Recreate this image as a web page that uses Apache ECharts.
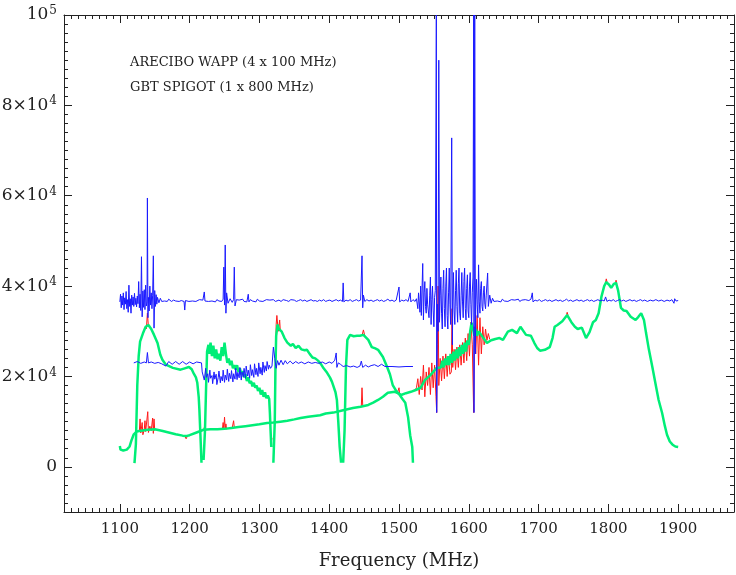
<!DOCTYPE html>
<html>
<head>
<meta charset="utf-8">
<script src="https://cdn.jsdelivr.net/npm/echarts@6/dist/echarts.min.js"></script>
<style>
  html, body { margin: 0; padding: 0; background: #fff; }
  #chart { width: 736px; height: 575px; }
</style>
</head>
<body>
<div id="chart"></div>
<script>
// tick positions
const xTicks = [1100, 1200, 1300, 1400, 1500, 1600, 1700, 1800, 1900]
const yTicks = [0, 20000, 40000, 60000, 80000, 100000]

// GBT spigot, upper blue trace
const gbtBlue = [
  [1100,36500],[1101,38200],[1102,35200],[1103,37800],[1104,35800],[1105,38500],[1106,34800],[1107,37400],[1108,36000],[1109,38800],
  [1110,35000],[1111,37000],[1112,34200],[1113,40200],[1114,35500],[1115,37200],[1116,34000],[1117,38000],[1118,35800],[1119,37600],
  [1120,35500],[1121,38400],[1122,35900],[1123,37300],[1124,35400],[1125,37800],[1126,36100],[1127,41000],[1128,35200],[1129,38200],
  [1130,34600],[1131,46500],[1132,33200],[1133,38900],[1134,35300],[1135,39200],[1136,34800],[1137,40200],[1138,35600],[1139,36500],
  [1139.5,59500],[1140.3,33000],[1141,37500],[1142,34500],[1143,40000],[1144,35800],[1145,38500],[1146,35000],[1147,38000],[1148,46700],
  [1149,30700],[1150,39000],[1151,35500],[1152,38100],[1153,36000],[1154,37500],[1156,36300],[1158,37300],[1160,36600],[1162,37000],
  [1164,36700],[1166,36900],[1168,36600],[1170,37100],[1172,36800],[1174,36600],[1177,36900],[1180,36700],[1182,37000],[1185,36600],
  [1188,36800],[1190,37000],[1192,36600],[1193,34700],[1194,36800],[1196,36900],[1199,36600],[1201,37000],[1204,36700],[1206,36900],
  [1209,36600],[1211,36800],[1214,37000],[1216,36700],[1219,36900],[1220,36600],[1221,38700],[1222,36700],[1224,36900],[1227,36600],
  [1229,37000],[1232,36700],[1234,36800],[1237,36500],[1239,37000],[1242,36700],[1244,36900],[1246,36600],[1248,37100],[1249,44200],
  [1250,35800],[1251,49100],[1252,34000],[1253,38500],[1255,36200],[1258,37200],[1261,36400],[1263,37000],[1264,44200],[1265,35600],
  [1267,37000],[1269,36600],[1271,36900],[1273,36700],[1276,37100],[1278,36600],[1280,36800],[1282,36500],[1284,38200],[1285,36500],
  [1287,37000],[1290,36700],[1292,36900],[1295,36500],[1297,37100],[1300,36700],[1302,36900],[1305,36600],[1307,36800],[1310,37000],
  [1312,36600],[1315,36900],[1317,36700],[1320,37000],[1323,36600],[1325,36800],[1328,36900],[1331,36600],[1334,37000],[1336,36700],
  [1339,36800],[1342,36600],[1345,37000],[1347,36700],[1350,36900],[1353,36600],[1356,36800],[1359,37000],[1362,36700],[1365,36900],
  [1368,36600],[1371,36800],[1374,37000],[1377,36700],[1380,36800],[1383,36600],[1386,36900],[1389,36700],[1392,37000],[1395,36600],
  [1398,36800],[1401,36900],[1404,36600],[1407,36800],[1410,37000],[1413,36700],[1416,36900],[1419,36600],[1420,40700],[1421,36500],
  [1424,36900],[1427,36700],[1430,37000],[1433,36600],[1436,36800],[1439,37000],[1442,36700],[1445,36900],[1446,37200],[1447,46700],
  [1448,35200],[1449,38000],[1451,36600],[1454,37000],[1457,36700],[1460,36900],[1463,36600],[1466,36800],[1469,37000],[1472,36700],
  [1475,36900],[1478,36600],[1481,36800],[1484,37100],[1487,36700],[1490,36900],[1493,36600],[1496,36900],[1498,36700],[1500,39800],
  [1501,36500],[1504,36900],[1507,36700],[1510,37000],[1513,36600],[1515,36900],[1516,38500],[1517,36500],[1520,37000],[1523,36600],
  [1525,37200],
  [1526,37000],[1527,35000],[1528,38500],[1530,34200],[1531,40000],[1532,33500],[1534,45000],[1535,32500],[1536,38500],[1537,41000],
  [1538,35500],[1539,34000],[1540,39500],[1541,36000],[1543,33000],[1544,38000],[1545,42000],[1546,31500],[1547,37000],[1548,40000],
  [1549,34500],[1550,31000],[1551,37500],[1552,39000],[1553.5,100000],[1554,12000],[1555,36000],[1556,30000],[1557,90000],[1558,32000],
  [1559,38000],[1560,42000],[1561,34000],[1562,30500],[1563,39500],[1564,43500],[1565,35000],[1566,31000],[1567,40000],[1568,44000],
  [1569,33500],[1570,30500],[1571,38500],[1572,44000],[1573,36000],[1574,31500],[1575.5,72800],[1576.5,27000],[1577,36500],[1578,43000],
  [1579,34500],[1580,31500],[1581,39000],[1582,43500],[1583,35500],[1584,32000],[1585,40500],[1586,44000],[1587,34000],[1588,32500],
  [1589,38000],[1590,43000],[1591,36500],[1592,33000],[1593,41000],[1594,44000],[1595,35000],[1596,32500],[1597,39500],[1598,42500],
  [1599,34500],[1600,33000],[1601,40000],[1602,43000],[1603,36000],[1604,31500],[1605,38500],[1606,42000],[1607,100000],[1607.5,12000],
  [1608.5,100000],[1609.5,25000],[1610,37000],[1611,41500],[1612,36000],[1613,33000],[1614,44700],[1615,36500],[1616,34000],[1617,39500],
  [1618,41000],[1619,35500],[1620,34500],[1621,38500],[1622,40000],[1623,36000],[1624,35000],[1625,38000],[1627,42900],[1628,35500],
  [1630,38000],[1632,36200],[1634,37300],[1636,36600],[1638,37000],[1641,36700],[1643,36900],[1646,36500],[1648,37100],[1651,36700],
  [1653,36900],[1656,36600],[1658,36800],[1661,37000],[1663,36600],[1666,36900],[1668,36700],[1671,37100],[1673,36600],[1676,36900],
  [1678,36700],[1681,37000],[1683,36600],[1686,36800],[1689,37100],[1691,38500],[1692,36500],[1695,36900],[1698,36700],[1701,37000],
  [1704,36600],[1707,36800],[1710,37000],[1713,36700],[1716,36900],[1719,36600],[1722,36800],[1725,37000],[1728,36700],[1731,36900],
  [1734,36600],[1737,36800],[1740,37100],[1743,36700],[1746,36900],[1749,36600],[1752,36800],[1755,37000],[1758,36700],[1761,36900],
  [1764,36600],[1767,36800],[1770,37000],[1773,36700],[1776,36900],[1779,36600],[1782,36800],[1785,37000],[1788,36700],[1791,36900],
  [1794,36700],[1796,37600],[1798,36600],[1801,36900],[1804,36700],[1807,37000],[1810,36600],[1813,36800],[1816,37000],[1819,36700],
  [1822,36900],[1825,36600],[1828,36800],[1831,37000],[1834,36700],[1837,36900],[1840,36600],[1843,36800],[1846,37000],[1849,36700],
  [1852,36900],[1856,36600],[1860,36900],[1864,36700],[1868,37000],[1872,36700],[1876,36900],[1880,36600],[1884,36900],[1888,36700],
  [1891,37000],[1894,36200],[1895,37200],[1897,36700],[1900,36800]
]

// Arecibo WAPP, lower blue trace
const wappBlue = [
  [1120,23000],[1125,23300],[1130,22900],[1135,23200],[1138,23000],[1139.5,25300],[1141,23000],[1145,23200],[1150,22900],[1155,23100],
  [1160,22800],[1166,22300],[1170,23300],[1175,22700],[1180,23300],[1185,22700],[1190,23300],[1195,22700],[1200,23200],[1205,22800],
  [1210,23200],[1217,23000],[1218,21000],
  [1220,21000],[1221,19200],[1223,21800],[1224,19800],[1226,20600],[1227,18700],[1229,21400],[1230,19600],[1232,20200],[1233,18400],
  [1235,21000],[1236,19400],[1238,20500],[1239,18200],[1241,19800],[1242,21200],[1244,18600],[1245,20000],[1247,19000],[1248,21400],
  [1250,18700],[1251,20300],[1253,19200],[1254,21600],[1256,18900],[1257,20700],[1259,19500],[1260,21300],[1262,18800],[1263,20600],
  [1265,19400],[1266,21800],[1268,19300],[1269,20900],[1271,19700],[1272,22000],[1274,19200],[1275,21000],[1277,19900],[1278,21800],
  [1280,19600],[1281,22300],[1283,20100],[1284,21400],[1286,19600],[1287,22600],[1289,20200],[1290,21500],[1292,19800],[1293,22800],
  [1295,20400],[1296,21800],[1298,20000],[1299,23000],[1301,20600],[1302,22000],[1304,20300],[1305,23200],[1307,20900],[1308,22400],
  [1310,21200],[1311,23300],[1313,21600],[1314,22500],[1316,21800],[1318,22300],
  [1319,22500],[1320,26500],[1322,24000],[1324,21800],[1326,23500],[1328,22500],[1331,23600],[1334,22600],[1337,23500],[1340,22800],
  [1344,23400],[1348,22800],[1352,23300],[1356,22900],[1360,23200],[1365,22800],[1370,23200],[1375,22900],[1380,23100],[1385,22900],
  [1390,23200],[1395,22800],[1400,23200],[1404,22900],[1408,23600],[1410,25200],[1411,22000],[1413,23000],[1416,22700],[1418,23000],
  [1420,22200],[1425,22400],[1430,22100],[1435,22300],[1440,22000],[1444,22300],[1446,23400],[1448,22000],[1452,22500],[1456,22100],
  [1460,22400],[1465,22600],[1470,22200],[1475,22700],[1480,22200],[1490,22200],[1500,22100],[1510,22200],[1520,22200]
]

// Arecibo WAPP bandpasses, four 100 MHz bands (green)
const wappGreen = [
  [1121,800],[1123,5000],[1125,18000],[1127,24500],[1129,27700],[1133,29500],[1137,31000],[1141,31400],[1145,30500],[1149,29200],
  [1154,27400],[1158,24800],[1161,23700],[1166,22600],[1176,21900],[1187,21500],[1193,21800],[1199,22100],[1203,21600],[1206,20600],
  [1209,19800],[1211,18600],[1213,15500],[1214,12600],[1216,5000],[1217,900],[1218,'-'],
  [1220,1500],[1222,8000],[1224,20000],[1225,25500],[1227,27000],[1228,25000],[1230,27500],[1232,24500],[1234,26800],[1236,24000],
  [1238,26000],[1240,23800],[1242,25000],[1244,23500],[1246,26500],[1248,24500],[1250,27500],[1252,25000],[1254,23000],[1256,24000],
  [1258,22500],[1260,23500],[1262,21800],[1264,22500],[1266,21500],[1268,22500],[1270,21000],[1272,21800],[1274,20500],[1276,21200],
  [1278,19800],[1280,20500],[1282,19000],[1284,19800],[1286,18500],[1288,19000],[1290,17800],[1292,18600],[1294,17500],[1296,18000],
  [1298,16800],[1300,17500],[1302,16000],[1304,17000],[1306,15500],[1308,16500],[1310,15200],[1312,15800],[1314,15000],[1315,12000],
  [1316,8000],[1317,4400],[1318,'-'],
  [1320,900],[1322,10000],[1323,22000],[1324,29000],[1326,31500],[1328,30500],[1332,29900],[1336,28500],[1340,27500],[1345,26800],
  [1348,27200],[1352,26300],[1356,26800],[1360,26000],[1365,25800],[1368,25900],[1372,25000],[1376,24200],[1380,24000],[1384,23500],
  [1388,22800],[1392,21800],[1397,20800],[1401,19800],[1404,18800],[1406,18400],[1409,16500],[1411,14800],[1413,10000],[1415,4400],
  [1417,900],[1418,'-'],
  [1420,900],[1422,8000],[1424,22000],[1426,28100],[1430,29200],[1435,28900],[1440,29000],[1444,29000],[1449,29200],[1456,28100],
  [1461,26500],[1466,26200],[1470,25900],[1477,24300],[1483,22100],[1487,20500],[1491,18100],[1496,16800],[1501,15900],[1505,15000],
  [1509,14200],[1513,11000],[1516,7000],[1519,4400],[1520,900]
]

// GBT spigot bandpass, 800 MHz (green)
const gbtGreen = [
  [1100,4600],[1101,3800],[1105,3600],[1110,3800],[1114,4500],[1117,6000],[1120,7200],[1124,7800],[1130,8000],[1140,8200],
  [1150,8300],[1160,8000],[1170,7600],[1180,7200],[1190,6900],[1195,6800],[1200,7000],[1210,7600],[1220,8200],[1230,8300],
  [1240,8300],[1250,8400],[1260,8600],[1270,8800],[1280,9000],[1290,9200],[1300,9400],[1311,9700],[1320,9800],[1330,10000],
  [1340,10200],[1350,10500],[1359,10800],[1370,11100],[1387,11400],[1395,11800],[1406,12000],[1420,12500],[1434,13000],[1445,13300],
  [1456,13700],[1463,14200],[1470,14800],[1477,15500],[1484,16400],[1494,16600],[1500,16200],[1503,15900],[1510,16300],[1517,16600],
  [1524,17000],[1531,17500],[1537,19200],[1545,20300],[1554,21900],[1560,22000],[1562,23500],[1564,22000],[1566,24000],[1568,22500],
  [1570,24500],[1572,22500],[1574,25000],[1576,23000],[1578,25500],[1580,23500],[1582,26000],[1584,24000],[1586,26500],[1588,24500],
  [1590,27000],[1592,25000],[1594,27500],[1596,25500],[1598,28000],[1600,27000],[1602,30000],[1604,31900],[1606,30500],[1608,29000],
  [1610,30500],[1612,29000],[1614,30000],[1616,29600],[1620,28700],[1626,27400],[1632,28000],[1638,28300],[1644,28500],[1649,28100],
  [1656,29900],[1662,30300],[1669,29600],[1674,31000],[1682,29200],[1689,29000],[1694,27400],[1698,26300],[1702,25700],[1709,25900],
  [1716,26500],[1720,28500],[1723,31000],[1727,31400],[1734,32200],[1741,33600],[1747,32000],[1752,31000],[1756,30500],[1762,30800],
  [1768,28500],[1773,29800],[1778,32000],[1782,32500],[1786,34000],[1790,37600],[1794,40000],[1797,40900],[1801,40300],[1804,39600],
  [1808,40500],[1811,40700],[1814,39000],[1818,35200],[1822,34600],[1826,34500],[1832,33200],[1839,32500],[1843,33200],[1847,34000],
  [1851,32500],[1854,29600],[1858,26000],[1863,22100],[1868,18000],[1872,14800],[1877,11900],[1881,9000],[1884,7100],[1888,5600],
  [1892,4900],[1896,4500],[1900,4400]
]

// unsmoothed spectra (red), only where they show outside the green curves
const rawRed = [
  [1128,8000],[1129,10600],[1130,7500],[1132,9800],[1133,7100],[1135,8200],[1136,10200],[1137,7800],[1139,8200],[1140,12200],[1141,7600],
  [1143,9000],[1145,8000],[1147,10800],[1148,7400],[1149,10600],[1150,8000],[1151,'-'],
  [1138,30500],[1139.5,34000],[1141,31000],[1142,'-'],
  [1193,6800],[1195,6200],[1197,6900],[1198,'-'],
  [1220,8100],[1221,8700],[1222,8200],[1223,'-'],
  [1247,8400],[1248,9800],[1249,8300],[1250,11000],[1251,8400],[1252,9500],[1253,8300],[1254,'-'],
  [1261,8600],[1263,10200],[1264,8700],[1265,'-'],
  [1316,4400],[1318,6400],[1319,'-'],
  [1322,14000],[1324,31500],[1325,33500],[1327,30000],[1329,32500],[1330,30000],[1331,'-'],
  [1446,13400],[1447,17500],[1448,13600],[1449,'-'],
  [1447,29000],[1449,30300],[1451,29000],[1452,'-'],
  [1498,16500],[1500,17500],[1501,16000],[1502,'-'],
  [1523,17000],[1525,17500],[1527,19500],[1529,16000],[1531,20000],[1533,17000],[1535,22500],[1537,15500],[1539,21000],[1541,18000],
  [1543,22000],[1545,16000],[1547,23000],[1549,17500],[1551,22500],[1553,15500],[1554,12000],[1555,27000],[1556,40000],[1557,18000],
  [1559,24000],[1561,19000],[1563,24500],[1565,19500],[1567,25000],[1569,20000],[1571,24500],[1573,20500],[1575,21000],[1576,35000],
  [1577,22000],[1579,26000],[1581,21500],[1583,26500],[1585,22000],[1587,27000],[1589,22500],[1591,27500],[1593,23000],[1595,28500],
  [1597,23500],[1599,29500],[1601,24500],[1603,32000],[1605,27000],[1607,12000],[1608,31000],[1610,25000],[1612,33500],[1614,22500],
  [1616,33000],[1618,25000],[1620,31000],[1622,27000],[1624,30500],[1626,28000],[1628,29500],[1630,28200],[1631,'-'],
  [1740,33700],[1741,34200],[1742,33600],[1743,'-'],
  [1796,40800],[1797,41600],[1798,40900],[1799,'-'],
  [1810,40600],[1811,41300],[1812,40600]
]

const labels = ['ARECIBO WAPP (4 x 100 MHz)', 'GBT SPIGOT (1 x 800 MHz)']

const FONT = 'DejaVu Serif'
const INK = '#222'

function yLabel(v) {
  if (v === 0) return '{b|0}'
  if (v === 100000) return '{b|10}{s|5}'
  return '{b|' + (v / 10000) + '×10}{s|4}'
}

const chart = echarts.init(document.getElementById('chart'), null, { renderer: 'canvas' })

const baseX = {
  type: 'value', min: 1020, max: 1980, gridIndex: 0,
  splitLine: { show: false },
  axisLine: { onZero: false, lineStyle: { color: INK, width: 1 } },
}
const baseY = {
  type: 'value', min: -10000, max: 100000, gridIndex: 0,
  splitLine: { show: false },
  axisLine: { onZero: false, lineStyle: { color: INK, width: 1 } },
}
const minorTick = { inside: true, length: 4, interval: 0, lineStyle: { color: INK } }
const majorTickX = { inside: true, length: 8, customValues: xTicks, lineStyle: { color: INK } }
const majorTickY = { inside: true, length: 8, customValues: yTicks, lineStyle: { color: INK } }

const lineSeries = (data, color, width, z) => ({
  type: 'line', data, xAxisIndex: 0, yAxisIndex: 0,
  showSymbol: false, symbol: 'none', connectNulls: false, animation: false, z,
  lineStyle: { color, width }, emphasis: { disabled: true },
})

chart.setOption({
  backgroundColor: '#fff',
  animation: false,
  grid: { left: 64, right: 2, top: 15, bottom: 63, containLabel: false, outerBoundsMode: 'none' },
  xAxis: [
    Object.assign({}, baseX, {
      position: 'bottom', interval: 10, axisTick: minorTick,
      axisLabel: { customValues: xTicks, formatter: v => String(v), color: INK, fontFamily: FONT, fontSize: 15, margin: 10 },
      name: 'Frequency (MHz)', nameLocation: 'middle', nameGap: 40,
      nameTextStyle: { color: INK, fontFamily: FONT, fontSize: 18 },
    }),
    Object.assign({}, baseX, { position: 'bottom', axisLine: { show: false, onZero: false }, axisTick: majorTickX, axisLabel: { show: false } }),
    Object.assign({}, baseX, { position: 'top', interval: 10, axisTick: minorTick, axisLabel: { show: false } }),
    Object.assign({}, baseX, { position: 'top', axisLine: { show: false, onZero: false }, axisTick: majorTickX, axisLabel: { show: false } }),
  ],
  yAxis: [
    Object.assign({}, baseY, {
      position: 'left', interval: 2000, axisTick: minorTick,
      axisLabel: {
        customValues: yTicks, margin: 7, formatter: yLabel,
        rich: {
          b: { color: INK, fontFamily: FONT, fontSize: 17, lineHeight: 20 },
          s: { color: INK, fontFamily: FONT, fontSize: 12, verticalAlign: 'top', lineHeight: 20, padding: [0, 0, 10, 1] },
        },
      },
    }),
    Object.assign({}, baseY, { position: 'left', axisLine: { show: false, onZero: false }, axisTick: majorTickY, axisLabel: { show: false } }),
    Object.assign({}, baseY, { position: 'right', interval: 2000, axisTick: minorTick, axisLabel: { show: false } }),
    Object.assign({}, baseY, { position: 'right', axisLine: { show: false, onZero: false }, axisTick: majorTickY, axisLabel: { show: false } }),
  ],
  graphic: labels.map((t, i) => ({
    type: 'text', left: 130, top: 56 + i * 25,
    style: { text: t, fill: INK, font: '13px "' + FONT + '"' },
  })),
  series: [
    lineSeries(rawRed, '#ff1a1a', 1, 2),
    lineSeries(gbtGreen, '#00ee77', 2.5, 3),
    lineSeries(wappGreen, '#00ee77', 2.5, 3),
    lineSeries(wappBlue, '#1a1aff', 1, 4),
    lineSeries(gbtBlue, '#1a1aff', 1, 4),
  ],
})
</script>
</body>
</html>
